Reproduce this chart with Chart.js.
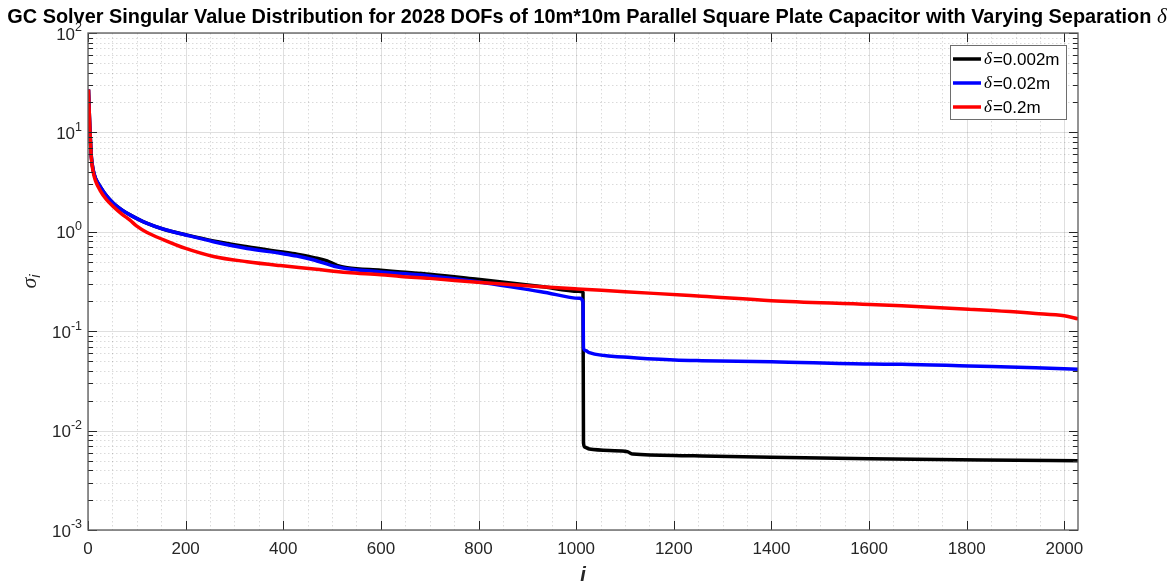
<!DOCTYPE html>
<html><head><meta charset="utf-8">
<script src="https://cdn.jsdelivr.net/npm/chart.js@4"></script>
<style>html,body{margin:0;padding:0;background:#fff;}#wrap{width:1173px;height:586px;position:relative}</style>
</head><body><div id="wrap"><canvas id="c" width="1173" height="586"></canvas></div>
<script>
// ---------- data ----------
const titleText = 'GC Solver Singular Value Distribution for 2028 DOFs of 10m*10m Parallel Square Plate Capacitor with Varying Separation ';
const titleSymbol = 'δ';
const seriesLabels = ['δ=0.002m', 'δ=0.02m', 'δ=0.2m'];
const seriesColors = ['#000000', '#0000ff', '#ff0000'];

const iBlack = [1,2,3,4,5,7,11,16,25,38,52,70,86,120,155,200,257,326,394,428,463,490,510,531,600,641,700,798,928,1005,1014,1015,1018,1027,1100,1106,1116,1216,1257,1400,1602,1832,2028];
const sBlack = [27,19,14,10.5,8.3,5.6,4.1,3.4,2.85,2.3,1.94,1.65,1.48,1.22,1.06,0.935,0.81,0.708,0.63,0.595,0.55,0.51,0.46,0.435,0.41,0.395,0.375,0.333,0.282,0.252,0.245,0.0075,0.0068,0.00653,0.0062,0.0061,0.0058,0.0056,0.00555,0.0054,0.00522,0.00506,0.00498];

const iBlue = [1,2,3,4,5,7,11,16,25,38,52,70,86,120,155,200,257,326,394,428,463,504,531,600,641,700,798,928,1007,1014,1015,1020,1027,1106,1202,1257,1400,1602,1667,1804,1941,2028];
const sBlue = [27,19,14,10.5,8.3,5.6,4.1,3.4,2.85,2.3,1.94,1.65,1.48,1.22,1.06,0.93,0.795,0.68,0.607,0.57,0.52,0.45,0.425,0.395,0.38,0.36,0.315,0.25,0.214,0.198,0.068,0.0635,0.0608,0.0546,0.0513,0.0505,0.0493,0.0467,0.0465,0.0447,0.043,0.0414];

const iRed = [1,2,3,4,5,7,11,16,25,38,52,70,86,100,120,155,200,257,326,394,463,531,600,641,700,798,928,1003,1100,1216,1257,1400,1602,1667,1804,1941,2000,2028];
const sRed = [27,19,14,10.4,8.1,5.4,3.9,3.2,2.6,2.1,1.79,1.5,1.31,1.14,0.99,0.83,0.68,0.565,0.5,0.457,0.423,0.389,0.37,0.355,0.34,0.31,0.28,0.266,0.25,0.231,0.225,0.203,0.186,0.18,0.166,0.151,0.143,0.133];

const xTickValues = [0,200,400,600,800,1000,1200,1400,1600,1800,2000];
const yDecadeExps = [-3,-2,-1,0,1,2];
const xLabelText = 'i';
const yLabelMain = 'σ';
const yLabelSub = 'i';

// ---------- drawing ----------
const SANS = '"Liberation Sans", Arial, Helvetica, sans-serif';
const SERIF = '"Liberation Serif", "DejaVu Serif", serif';
const AX = '#262626';

function pts(xs, ys) { return xs.map((v, k) => ({ x: v, y: ys[k] })); }
const seriesData = [pts(iBlack, sBlack), pts(iBlue, sBlue), pts(iRed, sRed)];

function drawPow(ctx, exp, xr, yc) {
  const base = '10', ex = String(exp);
  ctx.font = '17px ' + SANS;
  const wb = ctx.measureText(base).width;
  ctx.font = '12.5px ' + SANS;
  const we = ctx.measureText(ex).width;
  const x0 = xr - wb - we;
  ctx.fillStyle = AX;
  ctx.textBaseline = 'middle';
  ctx.textAlign = 'left';
  ctx.font = '17px ' + SANS;
  ctx.fillText(base, x0, yc + 2);
  ctx.font = '12.5px ' + SANS;
  ctx.fillText(ex, x0 + wb, yc - 5);
}

const matlabPlugin = {
  id: 'matlab',
  beforeDatasetsDraw(chart) {
    const { ctx, chartArea: a, scales: { x, y } } = chart;
    ctx.save();
    ctx.lineWidth = 1;
    // minor grid (dotted)
    ctx.strokeStyle = 'rgba(38,38,38,0.17)';
    ctx.setLineDash([1.5, 2.5]);
    ctx.beginPath();
    for (let v = 50; v < 2028; v += 50) {
      if (v % 200 === 0) continue;
      const px = Math.round(x.getPixelForValue(v)) + 0.5;
      ctx.moveTo(px, a.top); ctx.lineTo(px, a.bottom);
    }
    for (let e = -3; e < 2; e++) {
      for (let m = 2; m <= 9; m++) {
        const py = Math.round(y.getPixelForValue(m * Math.pow(10, e))) + 0.5;
        ctx.moveTo(a.left, py); ctx.lineTo(a.right, py);
      }
    }
    ctx.stroke();
    // major grid
    ctx.setLineDash([]);
    ctx.strokeStyle = 'rgba(38,38,38,0.15)';
    ctx.beginPath();
    xTickValues.forEach(v => {
      const px = Math.round(x.getPixelForValue(v)) + 0.5;
      ctx.moveTo(px, a.top); ctx.lineTo(px, a.bottom);
    });
    yDecadeExps.forEach(e => {
      const py = Math.round(y.getPixelForValue(Math.pow(10, e))) + 0.5;
      ctx.moveTo(a.left, py); ctx.lineTo(a.right, py);
    });
    ctx.stroke();
    ctx.restore();
  },
  afterDatasetsDraw(chart) {
    const { ctx, chartArea: a, scales: { x, y } } = chart;
    ctx.save();
    // ticks
    ctx.strokeStyle = AX;
    ctx.lineWidth = 1;
    ctx.beginPath();
    xTickValues.forEach(v => {
      const px = Math.round(x.getPixelForValue(v)) + 0.5;
      ctx.moveTo(px, a.bottom); ctx.lineTo(px, a.bottom - 9);
      ctx.moveTo(px, a.top); ctx.lineTo(px, a.top + 9);
    });
    yDecadeExps.forEach(e => {
      const py = Math.round(y.getPixelForValue(Math.pow(10, e))) + 0.5;
      ctx.moveTo(a.left, py); ctx.lineTo(a.left + 9, py);
      ctx.moveTo(a.right, py); ctx.lineTo(a.right - 9, py);
      if (e < 2) {
        for (let m = 2; m <= 9; m++) {
          const pm = Math.round(y.getPixelForValue(m * Math.pow(10, e))) + 0.5;
          ctx.moveTo(a.left, pm); ctx.lineTo(a.left + 5, pm);
          ctx.moveTo(a.right, pm); ctx.lineTo(a.right - 5, pm);
        }
      }
    });
    ctx.stroke();
    // box
    ctx.strokeStyle = '#5a5a5a';
    ctx.lineWidth = 1.3;
    ctx.strokeRect(a.left, a.top, a.right - a.left, a.bottom - a.top);

    // x tick labels
    ctx.fillStyle = AX;
    ctx.font = '17px ' + SANS;
    ctx.textAlign = 'center';
    ctx.textBaseline = 'middle';
    xTickValues.forEach(v => {
      ctx.fillText(String(v), x.getPixelForValue(v), a.bottom + 19);
    });
    // y tick labels
    yDecadeExps.forEach(e => drawPow(ctx, e, a.left - 6, y.getPixelForValue(Math.pow(10, e))));

    // x label
    ctx.font = 'italic bold 20px ' + SANS;
    ctx.textAlign = 'center';
    ctx.textBaseline = 'middle';
    ctx.fillText(xLabelText, (a.left + a.right) / 2, 575);

    // y label (rotated)
    ctx.save();
    ctx.translate(30, (a.top + a.bottom) / 2);
    ctx.rotate(-Math.PI / 2);
    ctx.font = 'italic 22px ' + SERIF;
    ctx.textAlign = 'left';
    ctx.textBaseline = 'alphabetic';
    const ws = ctx.measureText(yLabelMain).width;
    ctx.font = 'italic 15px ' + SANS;
    const wi = ctx.measureText(yLabelSub).width;
    const sx = -(ws + wi) / 2;
    ctx.font = 'italic 22px ' + SERIF;
    ctx.fillText(yLabelMain, sx, 6);
    ctx.font = 'italic 15px ' + SANS;
    ctx.fillText(yLabelSub, sx + ws, 10);
    ctx.restore();

    // title (fitted to the reference span)
    ctx.fillStyle = '#000';
    ctx.textBaseline = 'alphabetic';
    ctx.textAlign = 'left';
    const refW = 1160;
    ctx.font = 'bold 100px ' + SANS;
    const w1r = ctx.measureText(titleText).width;
    ctx.font = 'italic 106px ' + SERIF;
    const w2r = ctx.measureText(titleSymbol).width;
    const tSize = 100 * refW / (w1r + w2r);
    ctx.font = 'bold ' + tSize + 'px ' + SANS;
    const w1 = ctx.measureText(titleText).width;
    ctx.font = 'italic ' + (tSize * 1.06) + 'px ' + SERIF;
    const w2 = ctx.measureText(titleSymbol).width;
    const tx = 587 - (w1 + w2) / 2;
    ctx.font = 'bold ' + tSize + 'px ' + SANS;
    ctx.fillText(titleText, tx, 23);
    ctx.font = 'italic ' + (tSize * 1.06) + 'px ' + SERIF;
    ctx.fillText(titleSymbol, tx + w1, 23);

    // legend
    const lx = 950.5, ly = 45.5, lw = 116, lh = 74;
    ctx.fillStyle = '#fff';
    ctx.fillRect(lx, ly, lw, lh);
    ctx.strokeStyle = '#6e6e6e';
    ctx.lineWidth = 1;
    ctx.strokeRect(lx, ly, lw, lh);
    chart.data.datasets.forEach((ds, k) => {
      const cy = 59 + k * 24;
      ctx.strokeStyle = ds.borderColor;
      ctx.lineWidth = 3.5;
      ctx.beginPath();
      ctx.moveTo(953, cy); ctx.lineTo(981, cy);
      ctx.stroke();
      const lab = ds.label;
      ctx.fillStyle = '#000';
      ctx.textBaseline = 'middle';
      ctx.textAlign = 'left';
      ctx.font = 'italic 17px ' + SERIF;
      const sym = lab.charAt(0), rest = lab.slice(1);
      ctx.fillText(sym, 984, cy + 1);
      const wsym = ctx.measureText(sym).width;
      ctx.font = '17px ' + SANS;
      ctx.fillText(rest, 984 + wsym + 1, cy + 1);
    });
    ctx.restore();
  }
};

new Chart(document.getElementById('c'), {
  type: 'line',
  data: {
    datasets: seriesLabels.map((lab, k) => ({
      label: lab,
      data: seriesData[k],
      borderColor: seriesColors[k],
      backgroundColor: seriesColors[k],
      borderWidth: 3.5,
      pointRadius: 0,
      cubicInterpolationMode: 'monotone',
      fill: false,
      order: 3 - k
    }))
  },
  options: {
    responsive: false,
    animation: false,
    devicePixelRatio: 1,
    layout: { padding: { left: 88, right: 95, top: 33, bottom: 56 } },
    plugins: { legend: { display: false }, title: { display: false }, tooltip: { enabled: false } },
    scales: {
      x: { type: 'linear', min: 0, max: 2028, display: false },
      y: { type: 'logarithmic', min: 0.001, max: 100, display: false }
    }
  },
  plugins: [matlabPlugin]
});
</script>
</body></html>
